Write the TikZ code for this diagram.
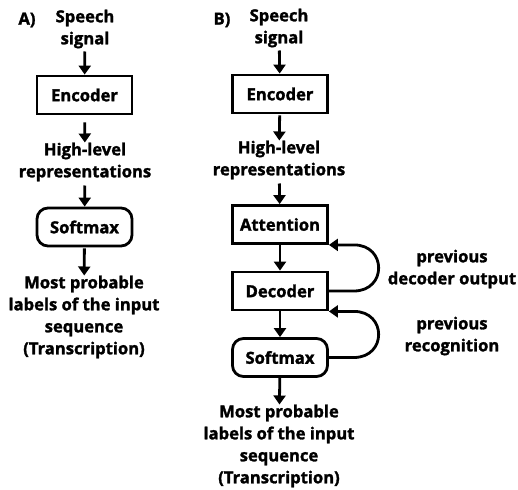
\documentclass[tikz,border=0pt]{standalone}
\usepackage{fontspec}
\setmainfont[BoldFeatures={FakeBold=1.6}]{Open Sans}
\usetikzlibrary{arrows.meta,calc}
\begin{document}
\begin{tikzpicture}[x=1pt,y=-1pt, every node/.style={font=\fontsize{16.6}{22}\selectfont\bfseries},
  box/.style={draw,line width=2.8pt,minimum width=95pt,minimum height=38pt,inner sep=0pt},
  rbox/.style={box,rounded corners=11pt},
  txt/.style={align=center,inner sep=0pt},
  arr/.style={-{Triangle[width=12pt,length=9pt]},line width=2.8pt}]
\useasboundingbox (0,0) rectangle (518,489);
% A) CTC-style pipeline
\node[txt] (tagA) at (27,20) {A)};
\node[txt] (inA) at (85,29) {Speech\\signal};
\node[box] (encA) at (84.5,95) {Encoder};
\node[txt] (hlA) at (85,162) {High-level\\representations};
\node[rbox] (smA) at (84.5,227) {Softmax};
\node[txt] (outA) at (84,317) {Most probable\\labels of the input\\sequence\\(Transcription)};
\draw[arr,shorten <=3pt] (inA) -- (encA);
\draw[arr,shorten <=7pt] (encA) -- (hlA);
\draw[arr,shorten <=4pt] (hlA) -- (smA);
\draw[arr,shorten <=1pt] (smA) -- (outA);
% B) attention-based pipeline
\node[txt] (tagB) at (222,20) {B)};
\node[txt] (inB) at (279,28) {Speech\\signal};
\node[box] (encB) at (280,94) {Encoder};
\node[txt] (hlB) at (279,160) {High-level\\representations};
\node[box] (att) at (280,224.5) {Attention};
\node[box] (dec) at (280,291) {Decoder};
\node[rbox] (smB) at (280,357.5) {Softmax};
\node[txt] (outB) at (279,446) {Most probable\\labels of the input\\sequence\\(Transcription)};
\draw[arr,shorten <=3pt] (inB) -- (encB);
\draw[arr,shorten <=1pt] (encB) -- (hlB);
\draw[arr,shorten <=4pt] (hlB) -- (att);
\draw[arr] (att) -- (dec);
\draw[arr] (dec) -- (smB);
\draw[arr] (smB) -- (outB);
% feedback loops
\draw[arr] (dec.east) -- ++(25,0) .. controls +(33,0) and +(33,0) .. ($(att.south east)+(25,0)$) -- (att.south east);
\draw[arr] (smB.east) -- ++(25,0) .. controls +(33,0) and +(33,0) .. ($(dec.south east)+(25,0)$) -- (dec.south east);
\node[txt] (fb1) at (452,269) {previous\\decoder output};
\node[txt] (fb2) at (452,336) {previous\\recognition};
\end{tikzpicture}
\end{document}
